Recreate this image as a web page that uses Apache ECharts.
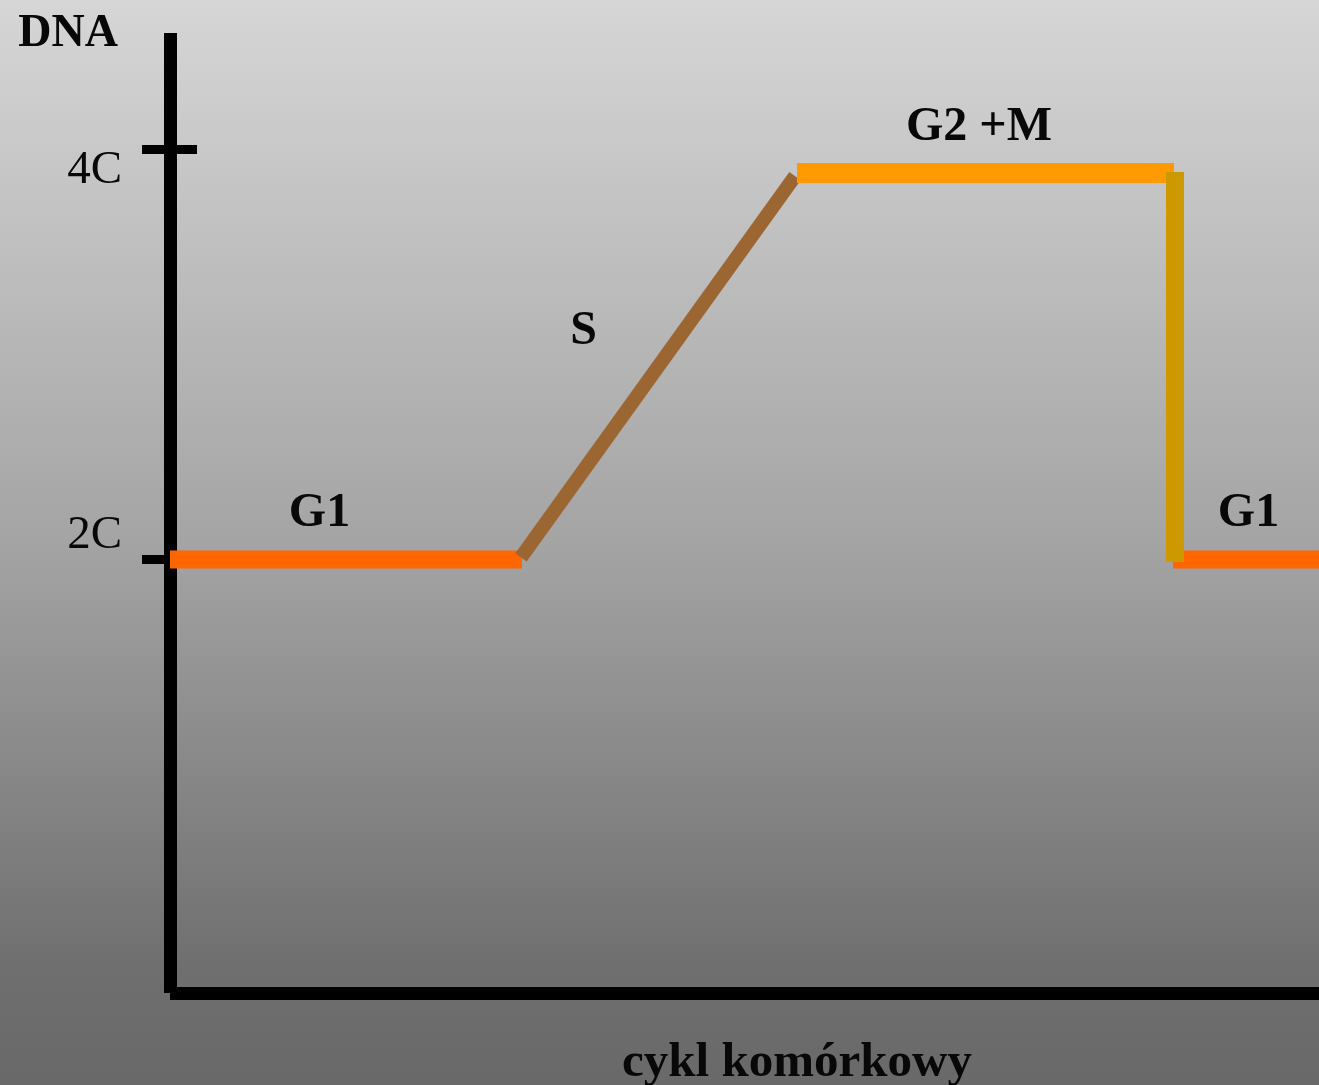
<!DOCTYPE html>
<html>
<head>
<meta charset="utf-8">
<title>DNA w cyklu komórkowym</title>
<script src="https://cdn.jsdelivr.net/npm/echarts@6/dist/echarts.min.js"></script>
<style>
  html, body { margin: 0; padding: 0; }
  #chart { width: 1319px; height: 1085px; }
</style>
</head>
<body>
<div id="chart"></div>
<script>
// odcinki wykresu: [czas, zawartość DNA (C)]
var g1Start = [[0, 2], [3.52, 2]];
var sPhase = [[3.51, 2.01], [6.25, 3.87]];
var g2m = [[6.27, 3.885], [10.04, 3.885]];
var division = [[10.05, 3.89], [10.05, 1.988]];
var g1Next = [[10.03, 2], [11.49, 2]];

// podpisy faz: [tekst, czas, DNA]
var phaseLabels = [
  ["G1", 1.495, 2.222],
  ["S", 4.135, 3.112],
  ["G2 +M", 8.09, 4.105],
  ["G1", 10.785, 2.222]
];

// oś Y
var yTicks = [2, 4];
var yTickLabels = ["2C", "4C"];
var yLabelAt = [2.117, 3.897];

var FONT = '"Liberation Serif", "Times New Roman", serif';

(function () {
  var myChart = echarts.init(document.getElementById("chart"));

  function seg(name, data, color, width) {
    return {
      name: name,
      type: "line",
      data: data,
      symbol: "none",
      silent: true,
      animation: false,
      lineStyle: { color: color, width: width, cap: "butt" }
    };
  }

  var option = {
    backgroundColor: {
      type: "linear", x: 0, y: 0, x2: 0, y2: 1,
      colorStops: [
        { offset: 0, color: "#d6d6d6" },
        { offset: 0.5, color: "#a4a4a4" },
        { offset: 0.9, color: "#6e6e6e" },
        { offset: 1, color: "#696969" }
      ]
    },
    animation: false,
    grid: {
      left: 170, right: 0, top: 33, bottom: 92,
      containLabel: false,
      outerBoundsMode: "none"
    },
    xAxis: {
      type: "value",
      min: 0,
      max: 11.49,
      name: "cykl komórkowy",
      nameLocation: "middle",
      nameGap: 70,
      nameTextStyle: {
        fontFamily: FONT, fontWeight: "bold", fontSize: 49, color: "#080808",
        verticalAlign: "middle", padding: [0, 0, 0, 105]
      },
      axisLine: { show: true, onZero: false, lineStyle: { color: "#000", width: 13, cap: "butt" } },
      axisTick: { show: false },
      axisLabel: { show: false },
      splitLine: { show: false }
    },
    yAxis: [
      {
        type: "value",
        min: -0.115,
        max: 4.568,
        name: "DNA",
        nameLocation: "end",
        nameGap: -1,
        nameTextStyle: {
          fontFamily: FONT, fontWeight: "bold", fontSize: 46, color: "#080808",
          align: "right", verticalAlign: "middle", padding: [0, 52, 0, 0]
        },
        axisLine: { show: true, onZero: false, lineStyle: { color: "#000", width: 13, cap: "butt" } },
        axisTick: {
          show: true, length: 28, customValues: yTicks,
          lineStyle: { color: "#000", width: 9 }
        },
        axisLabel: {
          show: true, margin: 48, customValues: yLabelAt,
          fontFamily: FONT, fontSize: 47, color: "#080808",
          formatter: function (v) {
            var i = yLabelAt.indexOf(v);
            return i >= 0 ? yTickLabels[i] : "";
          }
        },
        splitLine: { show: false }
      },
      {
        type: "value",
        min: -0.115,
        max: 4.568,
        position: "left",
        axisLine: { show: false },
        axisTick: {
          show: true, inside: true, length: 27, customValues: [yTicks[1]],
          lineStyle: { color: "#000", width: 9 }
        },
        axisLabel: { show: false },
        splitLine: { show: false }
      }
    ],
    series: [
      seg("G1", g1Start, "#ff6600", 18),
      seg("S", sPhase, "#9c6633", 14),
      seg("G2 +M", g2m, "#ff9900", 20),
      seg("G1 ", g1Next, "#ff6600", 18),
      seg("podział", division, "#cc9900", 18),
      {
        name: "podpisy",
        type: "scatter",
        symbolSize: 0,
        silent: true,
        itemStyle: { opacity: 1 },
        data: phaseLabels.map(function (p) { return { name: p[0], value: [p[1], p[2]] }; }),
        label: {
          show: true,
          position: "inside",
          formatter: function (p) { return p.name; },
          fontFamily: FONT, fontWeight: "bold", fontSize: 48, color: "#080808"
        }
      }
    ]
  };

  myChart.setOption(option);
  window.addEventListener("resize", function () {
    myChart.resize();
  });
})();
</script>
</body>
</html>
